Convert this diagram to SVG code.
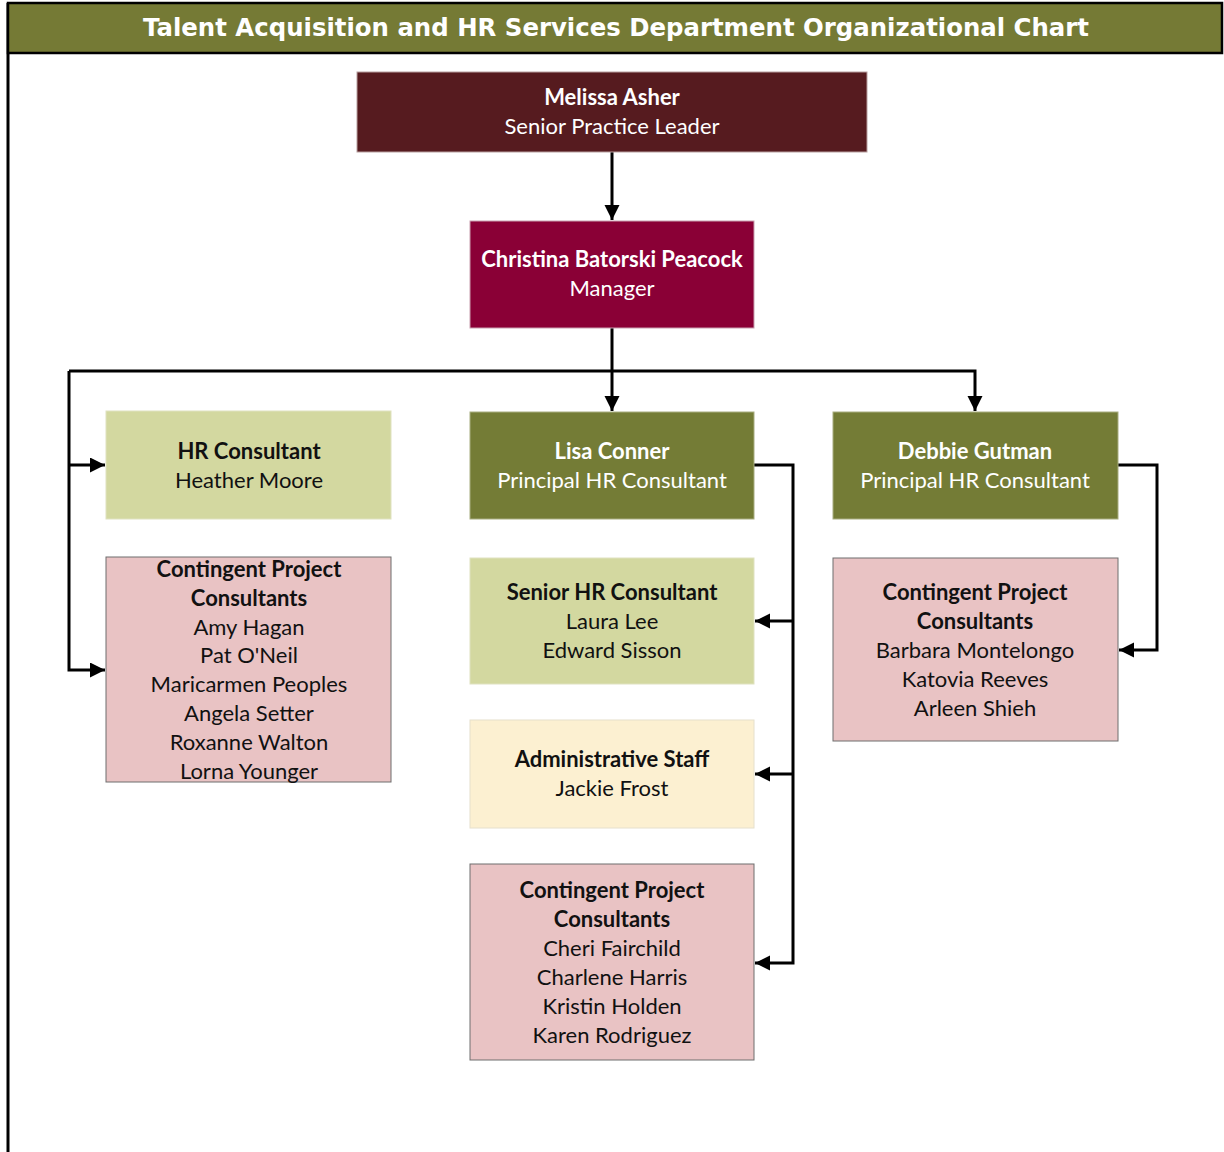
<svg xmlns="http://www.w3.org/2000/svg" width="1224" height="1152" viewBox="0 0 1224 1152">
<defs>
<style>
.t{font-family:Lato,"Liberation Sans",sans-serif;font-size:22px;text-anchor:middle}
.b{font-weight:bold}
.w{fill:#ffffff}
.k{fill:#111111}
.conn{fill:none;stroke:#000;stroke-width:3}
</style>
<marker id="ah" markerUnits="userSpaceOnUse" markerWidth="16" markerHeight="16" refX="15" refY="7.5" orient="auto">
<path d="M0,0 L15,7.5 L0,15 z" fill="#000"/>
</marker>
</defs>
<rect width="1224" height="1152" fill="#fff"/>
<g id="frame">
<line x1="8" y1="3" x2="8" y2="1152" stroke="#000" stroke-width="3"/>
<rect x="8" y="3" width="1214" height="50" fill="#757a35" stroke="#000" stroke-width="2.5"/>
<text x="616" y="36" font-family="'DejaVu Sans','Liberation Sans',sans-serif" font-weight="bold" font-size="25" fill="#fff" text-anchor="middle" textLength="946" lengthAdjust="spacingAndGlyphs">Talent Acquisition and HR Services Department Organizational Chart</text>
</g>
<g id="connectors">
<line class="conn" x1="612" y1="152" x2="612" y2="220" marker-end="url(#ah)"/>
<line class="conn" x1="612" y1="328" x2="612" y2="411" marker-end="url(#ah)"/>
<polyline class="conn" points="69,371 975,371 975,411" marker-end="url(#ah)"/>
<polyline class="conn" points="69,371 69,670 105,670" marker-end="url(#ah)"/>
<line class="conn" x1="69" y1="465" x2="105" y2="465" marker-end="url(#ah)"/>
<polyline class="conn" points="754,465 793,465 793,963 755,963" marker-end="url(#ah)"/>
<line class="conn" x1="793" y1="621" x2="755" y2="621" marker-end="url(#ah)"/>
<line class="conn" x1="793" y1="774" x2="755" y2="774" marker-end="url(#ah)"/>
<polyline class="conn" points="1118,465 1157,465 1157,650 1119,650" marker-end="url(#ah)"/>
</g>
<g id="melissa">
<rect x="357" y="72" width="510" height="80" fill="#561b1f" stroke="#b8a0a0" stroke-width="1"/>
<text class="t b w" x="612" y="105">Melissa Asher</text>
<text class="t w" x="612" y="134">Senior Practice Leader</text>
</g>
<g id="christina">
<rect x="470" y="221" width="284" height="107" fill="#8a0036" stroke="#c9a0b0" stroke-width="1"/>
<text class="t b w" x="612" y="267">Christina Batorski Peacock</text>
<text class="t w" x="612" y="296">Manager</text>
</g>
<g id="hr-consultant">
<rect x="106" y="411" width="285" height="108" fill="#d3d8a0" stroke="#dfe2c0" stroke-width="1"/>
<text class="t b k" x="249" y="459">HR Consultant</text>
<text class="t k" x="249" y="488">Heather Moore</text>
</g>
<g id="lisa">
<rect x="470" y="412" width="284" height="107" fill="#747c36" stroke="#a8ad80" stroke-width="1"/>
<text class="t b w" x="612" y="459">Lisa Conner</text>
<text class="t w" x="612" y="488">Principal HR Consultant</text>
</g>
<g id="debbie">
<rect x="833" y="412" width="285" height="107" fill="#747c36" stroke="#a8ad80" stroke-width="1"/>
<text class="t b w" x="975" y="459">Debbie Gutman</text>
<text class="t w" x="975" y="488">Principal HR Consultant</text>
</g>
<g id="contingent-left">
<rect x="106" y="557" width="285" height="225" fill="#e9c3c4" stroke="#6e6e6e" stroke-width="1"/>
<text class="t b k" x="249" y="577">Contingent Project</text>
<text class="t b k" x="249" y="606">Consultants</text>
<text class="t k" x="249" y="635">Amy Hagan</text>
<text class="t k" x="249" y="663">Pat O'Neil</text>
<text class="t k" x="249" y="692">Maricarmen Peoples</text>
<text class="t k" x="249" y="721">Angela Setter</text>
<text class="t k" x="249" y="750">Roxanne Walton</text>
<text class="t k" x="249" y="779">Lorna Younger</text>
</g>
<g id="senior-hr">
<rect x="470" y="558" width="284" height="126" fill="#d3d8a0" stroke="#dfe2c0" stroke-width="1"/>
<text class="t b k" x="612" y="600">Senior HR Consultant</text>
<text class="t k" x="612" y="629">Laura Lee</text>
<text class="t k" x="612" y="658">Edward Sisson</text>
</g>
<g id="admin">
<rect x="470" y="720" width="284" height="108" fill="#fcf0d1" stroke="#e6e0cc" stroke-width="1"/>
<text class="t b k" x="612" y="767">Administrative Staff</text>
<text class="t k" x="612" y="796">Jackie Frost</text>
</g>
<g id="contingent-center">
<rect x="470" y="864" width="284" height="196" fill="#e9c3c4" stroke="#6e6e6e" stroke-width="1"/>
<text class="t b k" x="612" y="898">Contingent Project</text>
<text class="t b k" x="612" y="927">Consultants</text>
<text class="t k" x="612" y="956">Cheri Fairchild</text>
<text class="t k" x="612" y="985">Charlene Harris</text>
<text class="t k" x="612" y="1014">Kristin Holden</text>
<text class="t k" x="612" y="1043">Karen Rodriguez</text>
</g>
<g id="contingent-right">
<rect x="833" y="558" width="285" height="183" fill="#e9c3c4" stroke="#6e6e6e" stroke-width="1"/>
<text class="t b k" x="975" y="600">Contingent Project</text>
<text class="t b k" x="975" y="629">Consultants</text>
<text class="t k" x="975" y="658">Barbara Montelongo</text>
<text class="t k" x="975" y="687">Katovia Reeves</text>
<text class="t k" x="975" y="716">Arleen Shieh</text>
</g>
</svg>
